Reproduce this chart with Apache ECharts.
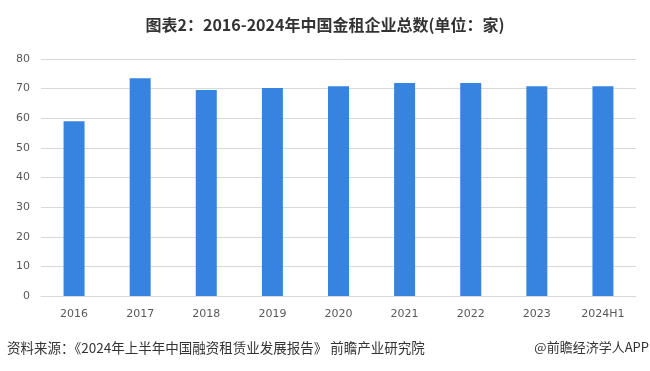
<!DOCTYPE html>
<html><head><meta charset="utf-8">
<script src="https://cdn.jsdelivr.net/npm/echarts@6/dist/echarts.min.js"></script>
<style>html,body{margin:0;padding:0;background:#fff}#c{width:650px;height:371px}</style>
</head><body><div id="c"></div>
<script>
const categories = ['2016','2017','2018','2019','2020','2021','2022','2023','2024H1'];
const counts = [59, 73.5, 69.5, 70.2, 70.8, 71.9, 71.9, 70.8, 70.8];
const yTicks = {min: 0, max: 80, interval: 10};
const titleText = '图表2：2016-2024年中国金租企业总数(单位：家)';
const sourceText = '资料来源：《2024年上半年中国融资租赁业发展报告》 前瞻产业研究院';
const brandText = '@前瞻经济学人APP';

const chart = echarts.init(document.getElementById('c'), null, {renderer: 'canvas'});
chart.setOption({
  animation: false,
  backgroundColor: '#fff',
  title: {
    text: titleText, left: 'center', top: 12,
    textStyle: {fontSize: 16, fontWeight: 'bold', color: '#333', fontFamily: '"Noto Sans CJK SC", sans-serif'}
  },
  graphic: [
    {type: 'text', left: 7, top: 341, style: {text: sourceText, fill: '#333', font: '13.5px "Noto Sans CJK SC", sans-serif'}},
    {type: 'text', right: 1, top: 341, style: {text: brandText, fill: '#333', font: '13px "Noto Sans CJK SC", sans-serif'}}
  ],
  grid: {left: 41, right: 14, top: 59, bottom: 75},
  xAxis: {
    type: 'category', data: categories,
    axisLine: {lineStyle: {color: '#d9d9d9'}},
    axisTick: {show: false},
    axisLabel: {color: '#595959', fontSize: 11, margin: 13, fontFamily: 'Verdana, "DejaVu Sans", sans-serif'}
  },
  yAxis: {
    type: 'value', min: yTicks.min, max: yTicks.max, interval: yTicks.interval,
    axisLine: {show: false}, axisTick: {show: false},
    splitLine: {lineStyle: {color: '#d9d9d9'}},
    axisLabel: {color: '#595959', fontSize: 11, margin: 11, fontFamily: 'Verdana, "DejaVu Sans", sans-serif'}
  },
  series: [{
    type: 'bar', data: counts, barWidth: 21,
    itemStyle: {color: '#3683e0'}
  }]
});
</script></body></html>
